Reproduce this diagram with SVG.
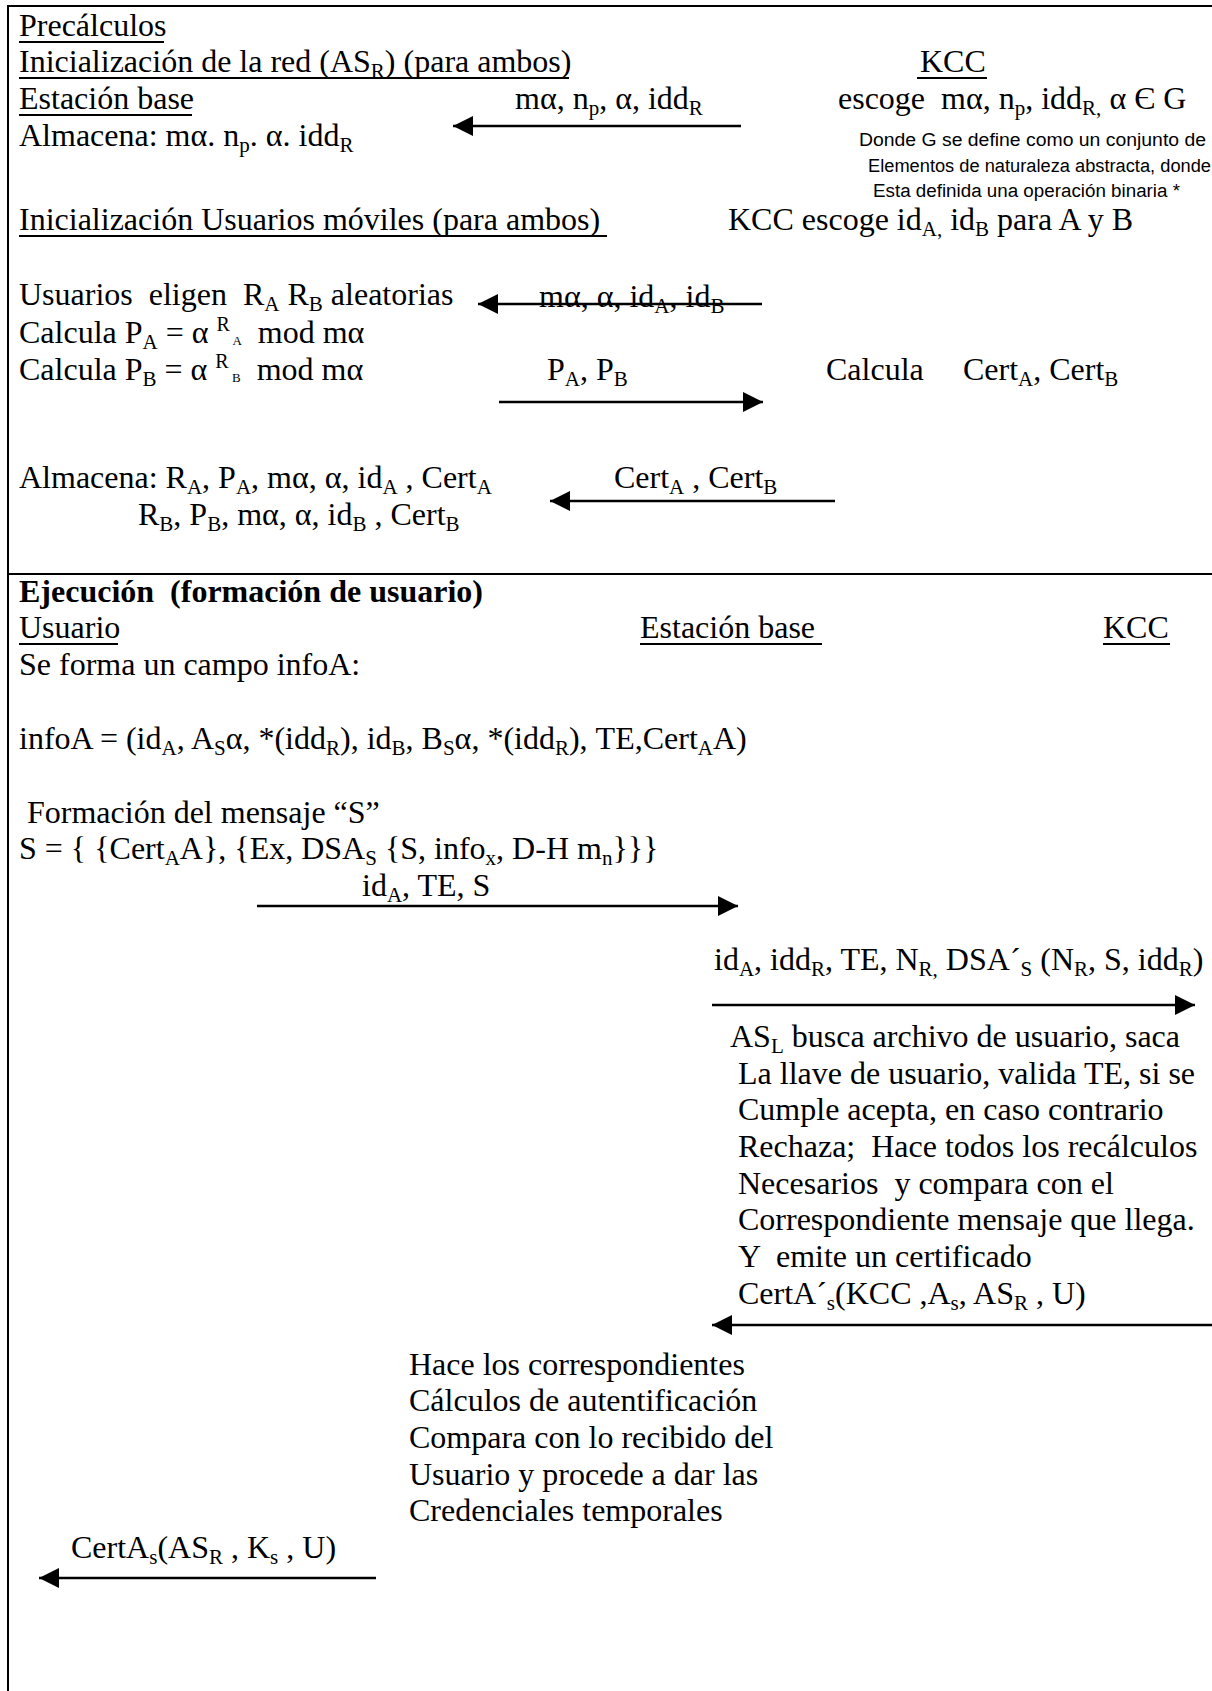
<svg xmlns="http://www.w3.org/2000/svg" width="1212" height="1691" viewBox="0 0 1212 1691">
<style>
text{font-family:"Liberation Serif","Times New Roman",serif;font-size:32px;fill:#000;white-space:pre}
.b{font-weight:bold}
.s{font-size:21px}
.sup{font-size:20px}
.t{font-size:13px}
.sm{font-family:"Liberation Sans Narrow","Liberation Sans",Arial,sans-serif;font-size:18px}
.u{stroke:#000;stroke-width:2}
.frame{stroke:#000;stroke-width:2;fill:none}
.c{stroke:#000;stroke-width:2.5;fill:none;marker-end:url(#ah)}
</style>
<defs>
<marker id="ah" markerUnits="userSpaceOnUse" markerWidth="20" markerHeight="20" refX="20" refY="10" orient="auto" viewBox="0 0 20 20"><path d="M0,0 L20,10 L0,20 z" fill="#000"/></marker>
</defs>
<rect width="1212" height="1691" fill="#fff"/>
<g id="frame">
<line class="frame" x1="8" y1="6" x2="1212" y2="6"/>
<line class="frame" x1="8" y1="5" x2="8" y2="1691"/>
<line class="frame" x1="8" y1="574" x2="1212" y2="574"/>
</g>
<g id="precalculos">
<text x="19" y="36">Precálculos</text>
<line class="u" x1="19" y1="42" x2="164" y2="42"/>
</g>
<g id="init-red">
<text x="19" y="72">Inicialización de la red (AS<tspan class="s" dy="6">R</tspan><tspan dy="-6">) (para ambos)</tspan></text>
<line class="u" x1="19" y1="78" x2="569" y2="78"/>
</g>
<g id="kcc-top">
<text x="920" y="72">KCC</text>
<line class="u" x1="917" y1="78" x2="987" y2="78"/>
<text xml:space="preserve" x="838" y="109">escoge  mα, n<tspan class="s" dy="6">p</tspan><tspan dy="-6">, idd</tspan><tspan class="s" dy="6">R,</tspan><tspan dy="-6"> α Є G</tspan></text>
<text class="sm" x="859" y="146" textLength="347" lengthAdjust="spacingAndGlyphs">Donde G se define como un conjunto de</text>
<text class="sm" x="868" y="172" textLength="343" lengthAdjust="spacingAndGlyphs">Elementos de naturaleza abstracta, donde</text>
<text class="sm" x="873" y="197" textLength="307" lengthAdjust="spacingAndGlyphs">Esta definida una operación binaria *</text>
</g>
<g id="estacion-base">
<text x="19" y="109">Estación base</text>
<line class="u" x1="19" y1="115" x2="192" y2="115"/>
<text x="19" y="146">Almacena: mα. n<tspan class="s" dy="6">p</tspan><tspan dy="-6">. α. idd</tspan><tspan class="s" dy="6">R</tspan></text>
</g>
<g id="msg-red">
<text x="515" y="109">mα, n<tspan class="s" dy="6">p</tspan><tspan dy="-6">, α, idd</tspan><tspan class="s" dy="6">R</tspan></text>
</g>
<g id="init-usuarios">
<text xml:space="preserve" x="19" y="230">Inicialización Usuarios móviles (para ambos) </text>
<line class="u" x1="19" y1="236" x2="607" y2="236"/>
<text x="728" y="230">KCC escoge id<tspan class="s" dy="6">A,</tspan><tspan dy="-6"> id</tspan><tspan class="s" dy="6">B</tspan><tspan dy="-6"> para A y B</tspan></text>
</g>
<g id="usuarios">
<text xml:space="preserve" x="19" y="305">Usuarios  eligen  R<tspan class="s" dy="6">A</tspan><tspan dy="-6"> R</tspan><tspan class="s" dy="6">B</tspan><tspan dy="-6"> aleatorias</tspan></text>
<text xml:space="preserve" x="19" y="343">Calcula P<tspan class="s" dy="6">A</tspan><tspan dy="-6"> = α </tspan><tspan class="sup" dy="-12">R</tspan><tspan class="t" dy="14"> A</tspan><tspan dy="-2">  mod mα</tspan></text>
<text xml:space="preserve" x="19" y="380">Calcula P<tspan class="s" dy="6">B</tspan><tspan dy="-6"> = α </tspan><tspan class="sup" dy="-12">R</tspan><tspan class="t" dy="14"> B</tspan><tspan dy="-2">  mod mα</tspan></text>
<text x="19" y="488">Almacena: R<tspan class="s" dy="6">A</tspan><tspan dy="-6">, P</tspan><tspan class="s" dy="6">A</tspan><tspan dy="-6">, mα, α, id</tspan><tspan class="s" dy="6">A</tspan><tspan dy="-6"> , Cert</tspan><tspan class="s" dy="6">A</tspan></text>
<text x="138" y="525">R<tspan class="s" dy="6">B</tspan><tspan dy="-6">, P</tspan><tspan class="s" dy="6">B</tspan><tspan dy="-6">, mα, α, id</tspan><tspan class="s" dy="6">B</tspan><tspan dy="-6"> , Cert</tspan><tspan class="s" dy="6">B</tspan></text>
</g>
<g id="kcc-calc">
<text x="826" y="380">Calcula</text>
<text x="963" y="380">Cert<tspan class="s" dy="6">A</tspan><tspan dy="-6">, Cert</tspan><tspan class="s" dy="6">B</tspan></text>
</g>
<g id="msg-ids">
<text x="539" y="307">mα, α, id<tspan class="s" dy="6">A</tspan><tspan dy="-6">, id</tspan><tspan class="s" dy="6">B</tspan></text>
</g>
<g id="msg-p">
<text x="547" y="380">P<tspan class="s" dy="6">A</tspan><tspan dy="-6">, P</tspan><tspan class="s" dy="6">B</tspan></text>
</g>
<g id="msg-cert">
<text x="614" y="488">Cert<tspan class="s" dy="6">A</tspan><tspan dy="-6"> , Cert</tspan><tspan class="s" dy="6">B</tspan></text>
</g>
<g id="ejecucion">
<text xml:space="preserve" class="b" x="19" y="602">Ejecución  (formación de usuario)</text>
</g>
<g id="usuario">
<text x="19" y="638">Usuario</text>
<line class="u" x1="19" y1="644" x2="118" y2="644"/>
<text x="19" y="675">Se forma un campo infoA:</text>
<text x="19" y="749">infoA = (id<tspan class="s" dy="6">A</tspan><tspan dy="-6">, A</tspan><tspan class="s" dy="6">S</tspan><tspan dy="-6">α, *(idd</tspan><tspan class="s" dy="6">R</tspan><tspan dy="-6">), id</tspan><tspan class="s" dy="6">B</tspan><tspan dy="-6">, B</tspan><tspan class="s" dy="6">S</tspan><tspan dy="-6">α, *(idd</tspan><tspan class="s" dy="6">R</tspan><tspan dy="-6">), TE,Cert</tspan><tspan class="s" dy="6">A</tspan><tspan dy="-6">A)</tspan></text>
<text xml:space="preserve" x="19" y="823"> Formación del mensaje “S”</text>
<text x="19" y="859">S = { {Cert<tspan class="s" dy="6">A</tspan><tspan dy="-6">A}, {Ex, DSA</tspan><tspan class="s" dy="6">S</tspan><tspan dy="-6"> {S, info</tspan><tspan class="s" dy="6">x</tspan><tspan dy="-6">, D-H m</tspan><tspan class="s" dy="6">n</tspan><tspan dy="-6">}}}</tspan></text>
</g>
<g id="estacion-base-2">
<text x="640" y="638">Estación base</text>
<line class="u" x1="640" y1="644" x2="822" y2="644"/>
<text x="714" y="970">id<tspan class="s" dy="6">A</tspan><tspan dy="-6">, idd</tspan><tspan class="s" dy="6">R</tspan><tspan dy="-6">, TE, N</tspan><tspan class="s" dy="6">R,</tspan><tspan dy="-6"> DSA´</tspan><tspan class="s" dy="6">S</tspan><tspan dy="-6"> (N</tspan><tspan class="s" dy="6">R</tspan><tspan dy="-6">, S, idd</tspan><tspan class="s" dy="6">R</tspan><tspan dy="-6">)</tspan></text>
<text x="409" y="1375">Hace los correspondientes</text>
<text x="409" y="1411">Cálculos de autentificación</text>
<text x="409" y="1448">Compara con lo recibido del</text>
<text x="409" y="1485">Usuario y procede a dar las</text>
<text x="409" y="1521">Credenciales temporales</text>
</g>
<g id="kcc-bottom">
<text x="1103" y="638">KCC</text>
<line class="u" x1="1103" y1="644" x2="1170" y2="644"/>
<text x="730" y="1047">AS<tspan class="s" dy="6">L</tspan><tspan dy="-6"> busca archivo de usuario, saca</tspan></text>
<text x="738" y="1084">La llave de usuario, valida TE, si se</text>
<text x="738" y="1120">Cumple acepta, en caso contrario</text>
<text xml:space="preserve" x="738" y="1157">Rechaza;  Hace todos los recálculos</text>
<text xml:space="preserve" x="738" y="1194">Necesarios  y compara con el</text>
<text x="738" y="1230">Correspondiente mensaje que llega.</text>
<text xml:space="preserve" x="738" y="1267">Y  emite un certificado</text>
<text x="738" y="1304">CertA´<tspan class="s" dy="6">s</tspan><tspan dy="-6">(KCC ,A</tspan><tspan class="s" dy="6">s</tspan><tspan dy="-6">, AS</tspan><tspan class="s" dy="6">R</tspan><tspan dy="-6"> , U)</tspan></text>
</g>
<g id="msg-s">
<text x="362" y="896">id<tspan class="s" dy="6">A</tspan><tspan dy="-6">, TE, S</tspan></text>
</g>
<g id="msg-final">
<text x="71" y="1558">CertA<tspan class="s" dy="6">s</tspan><tspan dy="-6">(AS</tspan><tspan class="s" dy="6">R</tspan><tspan dy="-6"> , K</tspan><tspan class="s" dy="6">s</tspan><tspan dy="-6"> , U)</tspan></text>
</g>
<g id="connectors">
<line class="c" x1="741" y1="126" x2="453" y2="126"/>
<line class="c" x1="762" y1="304" x2="478" y2="304"/>
<line class="c" x1="499" y1="402" x2="763" y2="402"/>
<line class="c" x1="835" y1="501" x2="550" y2="501"/>
<line class="c" x1="257" y1="906" x2="738" y2="906"/>
<line class="c" x1="712" y1="1005" x2="1195" y2="1005"/>
<line class="c" x1="1212" y1="1325" x2="712" y2="1325"/>
<line class="c" x1="376" y1="1578" x2="39" y2="1578"/>
</g>
</svg>
